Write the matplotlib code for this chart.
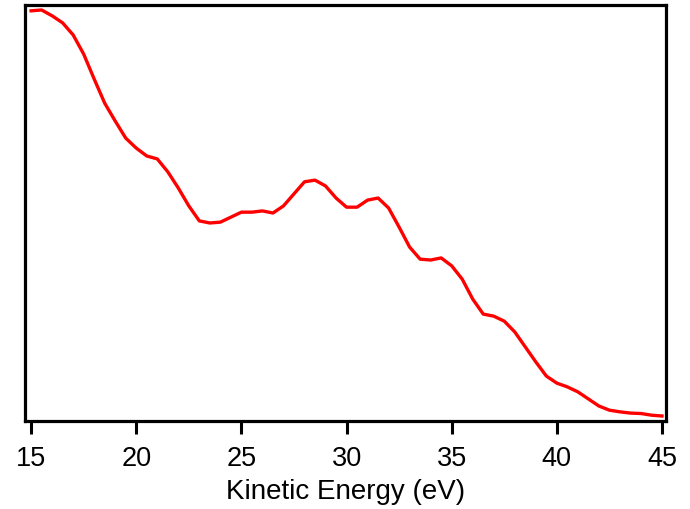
import matplotlib
matplotlib.use("Agg")
import matplotlib.pyplot as plt
import numpy as np

# kinetic energy (eV) and relative intensity
energy = np.arange(15.0, 45.01, 0.5)
intensity = [0.986, 0.988, 0.974, 0.957, 0.928, 0.882, 0.822, 0.764, 0.721, 0.680,
             0.656, 0.637, 0.630, 0.599, 0.560, 0.517, 0.481, 0.476, 0.478, 0.490,
             0.502, 0.502, 0.505, 0.500, 0.517, 0.546, 0.575, 0.579, 0.565, 0.536,
             0.514, 0.514, 0.531, 0.536, 0.512, 0.466, 0.418, 0.389, 0.387, 0.392,
             0.373, 0.341, 0.293, 0.257, 0.252, 0.240, 0.214, 0.178, 0.142, 0.108,
             0.091, 0.082, 0.070, 0.053, 0.036, 0.026, 0.022, 0.019, 0.018, 0.014,
             0.012]
xticks = [15, 20, 25, 30, 35, 40, 45]

plt.rcParams['font.family'] = ['Liberation Sans', 'DejaVu Sans']

fig = plt.figure(figsize=(6.9, 5.1), dpi=100)
ax = fig.add_axes([25 / 690, 88 / 510, 641 / 690, 416 / 510])

ax.plot(energy, intensity, color='#ff0000', lw=2.4)
ax.set_xlim(14.71, 45.19)
ax.set_ylim(0, 1)
ax.set_xticks(xticks)
ax.set_yticks([])
ax.tick_params(axis='x', direction='out', length=9, width=2.2, pad=8, labelsize=19.5)
for s in ax.spines.values():
    s.set_linewidth(2.3)
ax.set_xlabel('Kinetic Energy (eV)', fontsize=20, labelpad=5)

fig.savefig('out.png', dpi=100)
